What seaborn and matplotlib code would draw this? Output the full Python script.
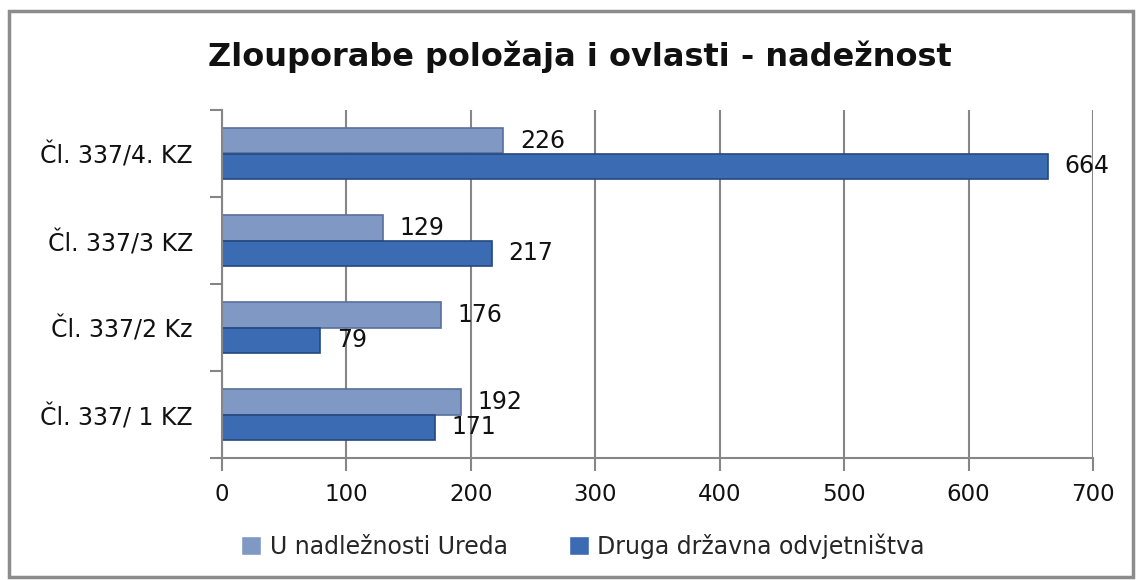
import matplotlib
matplotlib.use("Agg")
import matplotlib.pyplot as plt
from matplotlib.patches import Rectangle
import seaborn as sns
import pandas as pd

categories = ["Čl. 337/4. KZ", "Čl. 337/3 KZ", "Čl. 337/2 Kz", "Čl. 337/ 1 KZ"]
series_names = ["U nadležnosti Ureda", "Druga državna odvjetništva"]
ured_values = [226, 129, 176, 192]
druga_values = [664, 217, 79, 171]
x_ticks = [0, 100, 200, 300, 400, 500, 600, 700]
title = "Zlouporabe položaja i ovlasti - nadežnost"

colors = ["#8098C4", "#3B6CB3"]
edges = ["#5A6F98", "#24487F"]
grey = "#868686"

df = pd.DataFrame({
    "kategorija": categories * 2,
    "serija": [series_names[0]] * len(categories) + [series_names[1]] * len(categories),
    "vrijednost": ured_values + druga_values,
})

sns.set_theme(style="white")
plt.rcParams["font.family"] = ["DejaVu Sans"]

W, H = 1138, 580
fig = plt.figure(figsize=(W / 100, H / 100), dpi=100)
ax = fig.add_axes([222 / W, 1 - 458 / H, (1093 - 222) / W, (458 - 110) / H])

sns.barplot(data=df, y="kategorija", x="vrijednost", hue="serija",
            order=categories, hue_order=series_names, palette=colors,
            orient="h", width=0.58, ax=ax, saturation=1, legend=True)

for cont, ec in zip(ax.containers, edges):
    for p in cont:
        p.set_edgecolor(ec)
        p.set_linewidth(1.2)
    ax.bar_label(cont, padding=12, fontsize=17, color="#111111")

ax.set_xlim(0, 700)
ax.set_ylim(len(categories) - 0.5, -0.5)
ax.set_xticks(x_ticks)
ax.set_xticklabels([str(v) for v in x_ticks])
ax.set_xlabel("")
ax.set_ylabel("")
ax.xaxis.grid(True, color=grey, linewidth=1.5)
ax.set_axisbelow(True)

for s in ["top", "right"]:
    ax.spines[s].set_visible(False)
for s in ["left", "bottom"]:
    ax.spines[s].set_color(grey)
    ax.spines[s].set_linewidth(1.5)

ax.tick_params(axis="x", which="major", direction="out", length=9, width=1.5,
               color=grey, labelsize=16.5, pad=9, labelcolor="#111111", bottom=True)
ax.tick_params(axis="y", which="major", length=0, labelsize=17, pad=21, labelcolor="#111111", left=True)
ax.set_yticks([i - 0.5 for i in range(len(categories) + 1)], minor=True)
ax.tick_params(axis="y", which="minor", direction="out", length=9, width=1.5, color=grey, left=True)

ax.get_legend().remove()
handles, labels = ax.get_legend_handles_labels()
fig.legend(handles, labels, loc="center", bbox_to_anchor=(583 / W, 1 - 546 / H),
           ncol=2, frameon=False, fontsize=17, handlelength=0.85, handleheight=0.85,
           handletextpad=0.35, columnspacing=2.6)

fig.text(580 / W, 1 - 57 / H, title, ha="center", va="center",
         fontsize=23, fontweight="bold", color="#111111")

fig.add_artist(Rectangle((9 / W, 1 - 577 / H), (1133 - 9) / W, (577 - 11) / H,
                         transform=fig.transFigure, fill=False,
                         edgecolor="#8C8C8C", linewidth=2.5))

fig.savefig("out.png", dpi=100)
